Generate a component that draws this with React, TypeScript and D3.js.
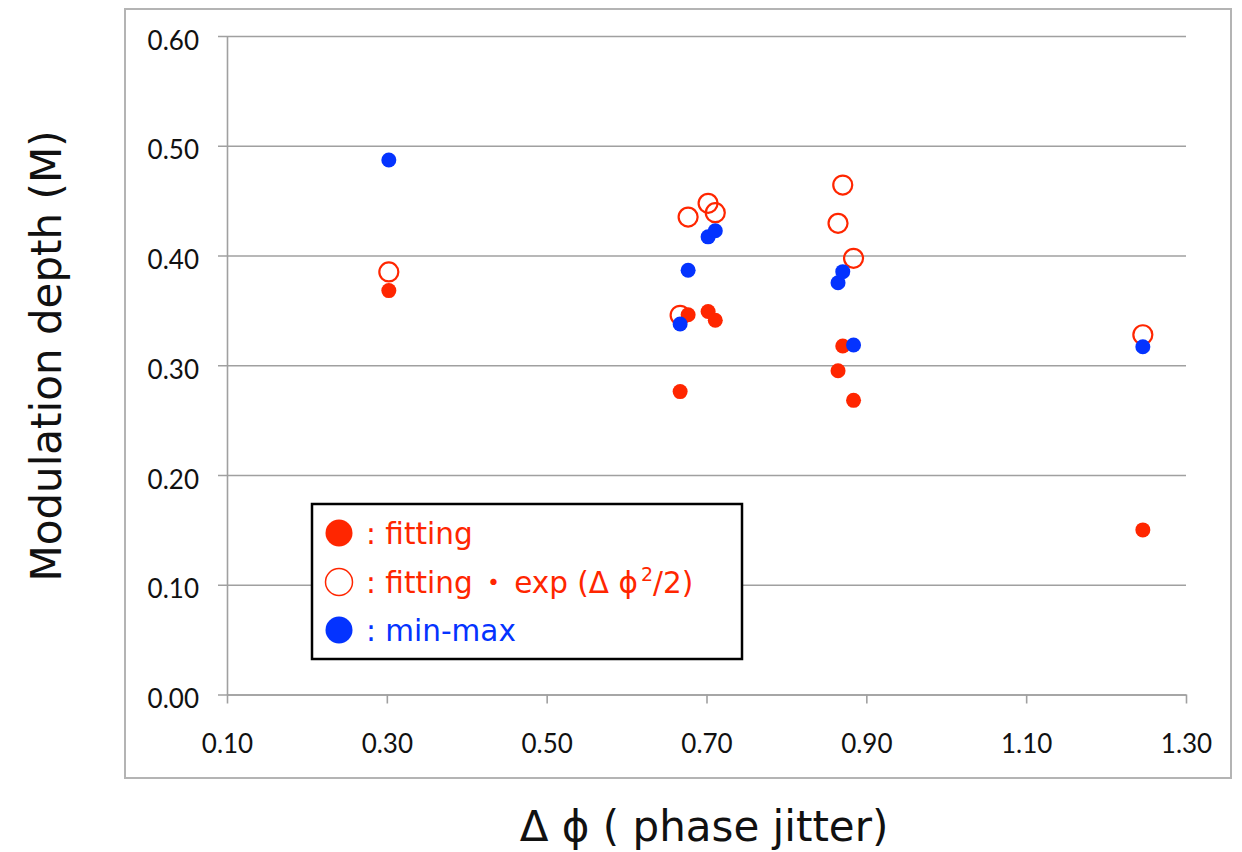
import React, { useEffect, useRef } from "react";
import { axisBottom, axisLeft, scaleLinear, select, format } from "d3";

// phase jitter (x) and the three modulation depth estimates
const phaseJitter = [0.3025, 0.667, 0.677, 0.702, 0.711, 0.8646, 0.8705, 0.884, 1.246];
const fitting = [0.368, 0.276, 0.346, 0.349, 0.341, 0.295, 0.3175, 0.268, 0.15];
const fittingExp = [0.385, 0.3455, 0.435, 0.4475, 0.439, 0.4293, 0.4642, 0.3974, 0.3278];
const minMax = [0.487, 0.3376, 0.3865, 0.417, 0.4226, 0.3752, 0.3853, 0.3184, 0.3169];

const xTicks = [0.1, 0.3, 0.5, 0.7, 0.9, 1.1, 1.3];
const yTicks = [0, 0.1, 0.2, 0.3, 0.4, 0.5, 0.6];

const RED = "#ff2600";
const BLUE = "#0433ff";
const GRID = "#a0a0a0";

const App = () => {
  const svgRef = useRef<SVGSVGElement>(null);

  const width = 1242;
  const height = 852;
  const plot = { left: 227, right: 1186, top: 36, bottom: 694.5 };

  useEffect(() => {
    const svg = select(svgRef.current);

    // SCALES
    const xScale = scaleLinear().domain([0.1, 1.3]).range([plot.left, plot.right]);
    const yScale = scaleLinear().domain([0, 0.6]).range([plot.bottom, plot.top]);

    // Y AXIS + horizontal grid
    const yAxis = axisLeft(yScale)
      .tickValues(yTicks)
      .tickFormat(format(".2f"))
      .tickSizeOuter(0);

    const gy = svg
      .select<SVGGElement>(".y-axis")
      .attr("transform", `translate(${plot.left},0)`)
      .call(yAxis);
    gy.select(".domain").attr("stroke", GRID).attr("stroke-width", 1.6);
    gy.selectAll(".tick line")
      .attr("x1", -9)
      .attr("x2", plot.right - plot.left)
      .attr("stroke", GRID)
      .attr("stroke-width", 1.6);
    gy.selectAll(".tick text")
      .attr("x", -28)
      .attr("dy", null)
      .attr("y", 13)
      .attr("fill", "#111")
      .style("font-family", "Lato, 'Open Sans', sans-serif")
      .style("font-size", "26px");

    // X AXIS
    const xAxis = axisBottom(xScale)
      .tickValues(xTicks)
      .tickFormat(format(".2f"))
      .tickSize(9)
      .tickSizeOuter(0);

    const gx = svg
      .select<SVGGElement>(".x-axis")
      .attr("transform", `translate(0,${plot.bottom})`)
      .call(xAxis);
    gx.select(".domain").attr("stroke", GRID).attr("stroke-width", 1.6);
    gx.selectAll(".tick line").attr("stroke", GRID).attr("stroke-width", 1.6);
    gx.selectAll(".tick text")
      .attr("dy", null)
      .attr("y", 58.5)
      .attr("fill", "#111")
      .style("font-family", "Lato, 'Open Sans', sans-serif")
      .style("font-size", "26px");

    // POINTS
    const idx = phaseJitter.map((_, i) => i);

    svg
      .select(".marks-exp")
      .selectAll("circle")
      .data(idx)
      .join("circle")
      .attr("cx", i => xScale(phaseJitter[i]))
      .attr("cy", i => yScale(fittingExp[i]))
      .attr("r", 9.5)
      .attr("fill", "none")
      .attr("stroke", RED)
      .attr("stroke-width", 2.2);

    svg
      .select(".marks-fit")
      .selectAll("circle")
      .data(idx)
      .join("circle")
      .attr("cx", i => xScale(phaseJitter[i]))
      .attr("cy", i => yScale(fitting[i]))
      .attr("r", 7.5)
      .attr("fill", RED);

    svg
      .select(".marks-minmax")
      .selectAll("circle")
      .data(idx)
      .join("circle")
      .attr("cx", i => xScale(phaseJitter[i]))
      .attr("cy", i => yScale(minMax[i]))
      .attr("r", 7.5)
      .attr("fill", BLUE);
  }, []);

  const titleFont = "'DejaVu Sans', 'Noto Sans CJK JP', sans-serif";
  const legendFont = "'DejaVu Sans', 'Noto Sans CJK JP', sans-serif";

  return (
    <svg
      ref={svgRef}
      width={width}
      height={height}
      style={{ position: "absolute", left: 0, top: 0, background: "#fff" }}
    >
      <rect x={0} y={0} width={width} height={height} fill="#fff" />
      {/* chart frame */}
      <rect x={125} y={9} width={1106} height={769} fill="none" stroke="#b4b4b4" strokeWidth={2} />

      <g className="y-axis" />
      <g className="x-axis" />

      <g className="marks-exp" />
      <g className="marks-fit" />
      <g className="marks-minmax" />

      {/* legend */}
      <g fontFamily={legendFont} fontSize={29.5}>
        <rect x={312} y={504} width={430} height={155} fill="#fff" stroke="#000" strokeWidth={2.5} />
        <circle cx={339} cy={533} r={13.5} fill={RED} />
        <text x={366} y={544} fill={RED}>
          : fitting
        </text>
        <circle cx={339} cy={582} r={13.5} fill="none" stroke={RED} strokeWidth={1.5} />
        <text x={366} y={593} fill={RED}>
          : fitting
          <tspan fontFamily="'Noto Sans CJK JP', sans-serif" dx={6}>・</tspan>
          <tspan dx={6}>exp (Δ ϕ</tspan>
          <tspan fontSize={19} dx={3} dy={-12}>2</tspan>
          <tspan dy={12}>/2)</tspan>
        </text>
        <circle cx={339} cy={630} r={13.5} fill={BLUE} />
        <text x={366} y={641} fill={BLUE}>
          : min-max
        </text>
      </g>

      {/* axis titles */}
      <text
        transform="translate(61,356) rotate(-90)"
        textAnchor="middle"
        fontFamily={titleFont}
        fontSize={42}
        fill="#111"
      >
        Modulation depth (M)
      </text>
      <text
        x={704}
        y={841}
        textAnchor="middle"
        fontFamily={titleFont}
        fontSize={42}
        fill="#111"
      >
        Δ ϕ ( phase jitter)
      </text>
    </svg>
  );
};

export default App;
